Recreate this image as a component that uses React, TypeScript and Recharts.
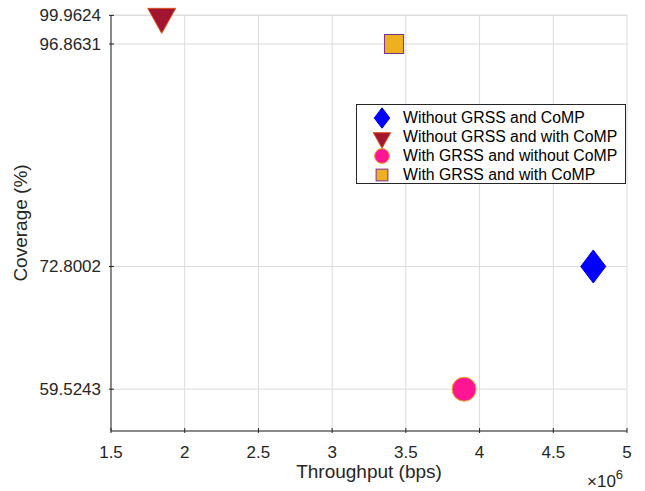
import React from "react";
import {
  ScatterChart,
  Scatter,
  XAxis,
  YAxis,
  CartesianGrid,
  Legend,
  Label,
} from "recharts";

const seriesNames = [
  "Without GRSS and CoMP",
  "Without GRSS and with CoMP",
  "With GRSS and without CoMP",
  "With GRSS and with CoMP",
];
const throughput = [4.771e6, 1.844e6, 3.895e6, 3.42e6];
const coverage = [72.8002, 99.9624, 59.5243, 96.8631];

const xTicks = [1.5e6, 2e6, 2.5e6, 3e6, 3.5e6, 4e6, 4.5e6, 5e6];
const yTicks = [59.5243, 72.8002, 96.8631, 99.9624];

const AXIS = "#262626";
const FONT = "'Liberation Sans', Arial, sans-serif";

// marker drawing, one per series
const drawMarker = (i: number, cx: number, cy: number, s = 1) => {
  if (i === 0) {
    const w = 12.5 * s;
    const h = 16.5 * s;
    return (
      <polygon
        points={`${cx},${cy - h} ${cx + w},${cy} ${cx},${cy + h} ${cx - w},${cy}`}
        fill="#0000ff"
        stroke="#0000ff"
      />
    );
  }
  if (i === 1) {
    const w = 14 * s;
    return (
      <polygon
        points={`${cx - w},${cy - 7 * s} ${cx + w},${cy - 7 * s} ${cx},${cy + 18 * s}`}
        fill="#a2142f"
        stroke="#d95319"
      />
    );
  }
  if (i === 2) {
    return <circle cx={cx} cy={cy} r={12 * s} fill="#ff1493" stroke="#edb120" />;
  }
  const h = 9.5 * s;
  return (
    <rect x={cx - h} y={cy - h} width={2 * h} height={2 * h} fill="#edb120" stroke="#7e2f8e" />
  );
};

const BottomTick = (props: any) => {
  const { x, y, payload } = props;
  return (
    <g>
      <line x1={x} y1={y} x2={x} y2={y - 5} stroke={AXIS} />
      <text x={x} y={y + 25} textAnchor="middle" fill={AXIS} fontSize={17} fontFamily={FONT}>
        {payload.value / 1e6}
      </text>
    </g>
  );
};

const TopTick = (props: any) => {
  const { x, y } = props;
  return <line x1={x} y1={y} x2={x} y2={y + 5} stroke={AXIS} />;
};

const LeftTick = (props: any) => {
  const { x, y, payload } = props;
  return (
    <g>
      <line x1={x} y1={y} x2={x + 5} y2={y} stroke={AXIS} />
      <text x={x - 8} y={y + 6} textAnchor="end" fill={AXIS} fontSize={17} fontFamily={FONT}>
        {payload.value.toFixed(4)}
      </text>
    </g>
  );
};

const RightTick = (props: any) => {
  const { x, y } = props;
  return <line x1={x} y1={y} x2={x - 5} y2={y} stroke={AXIS} />;
};

const LegendBox = () => (
  <div
    style={{
      width: 268,
      height: 78,
      border: `1px solid ${AXIS}`,
      background: "#fff",
      fontFamily: FONT,
      fontSize: 15.8,
      color: "#000",
      position: "relative",
    }}
  >
    {seriesNames.map((name, i) => (
      <div
        key={name}
        style={{
          position: "absolute",
          left: 0,
          top: 3.5 + i * 18.9,
          height: 19,
          display: "flex",
          alignItems: "center",
          whiteSpace: "nowrap",
        }}
      >
        <svg width={46} height={22} style={{ overflow: "visible" }}>
          {drawMarker(i, 25, 11, 0.62)}
        </svg>
        <span>{name}</span>
      </div>
    ))}
  </div>
);

const YLabel = (props: any) => {
  const { viewBox } = props;
  const x = viewBox.x + 27;
  const y = viewBox.y + viewBox.height / 2;
  return (
    <text
      x={x}
      y={y}
      transform={`rotate(-90 ${x} ${y})`}
      textAnchor="middle"
      fill={AXIS}
      fontSize={19}
      fontFamily={FONT}
    >
      Coverage (%)
    </text>
  );
};

const XLabel = (props: any) => {
  const { viewBox } = props;
  return (
    <text
      x={viewBox.x + viewBox.width / 2}
      y={viewBox.y + 47}
      textAnchor="middle"
      fill={AXIS}
      fontSize={19}
      fontFamily={FONT}
    >
      Throughput (bps)
    </text>
  );
};

const ExpLabel = (props: any) => {
  const { viewBox } = props;
  return (
    <text
      x={viewBox.x + viewBox.width - 40}
      y={viewBox.y + 56}
      fill={AXIS}
      fontSize={17}
      fontFamily={FONT}
    >
      ×10
      <tspan dy={-8} fontSize={13}>
        6
      </tspan>
    </text>
  );
};

export default function App() {
  return (
    <div style={{ position: "absolute", left: 0, top: 0, background: "#fff" }}>
      <ScatterChart
        width={645}
        height={491}
        margin={{ top: 15, right: 18, bottom: 0, left: 0 }}
      >
        <CartesianGrid stroke="#dcdcdc" />
        <XAxis
          type="number"
          dataKey="x"
          domain={[1.5e6, 5e6]}
          ticks={xTicks}
          interval={0}
          height={60}
          tickSize={0}
          tickLine={false}
          stroke={AXIS}
          tick={<BottomTick />}
        >
          <Label content={<XLabel />} />
          <Label content={<ExpLabel />} />
        </XAxis>
        <XAxis
          xAxisId="top"
          orientation="top"
          type="number"
          dataKey="x"
          domain={[1.5e6, 5e6]}
          ticks={xTicks}
          interval={0}
          height={0}
          tickSize={0}
          tickLine={false}
          stroke={AXIS}
          tick={<TopTick />}
        />
        <YAxis
          type="number"
          dataKey="y"
          domain={[55, 100]}
          ticks={yTicks}
          interval={0}
          width={111}
          tickSize={0}
          tickLine={false}
          stroke={AXIS}
          tick={<LeftTick />}
        >
          <Label content={<YLabel />} />
        </YAxis>
        <YAxis
          yAxisId="right"
          orientation="right"
          type="number"
          dataKey="y"
          domain={[55, 100]}
          ticks={yTicks}
          interval={0}
          width={0}
          tickSize={0}
          tickLine={false}
          stroke={AXIS}
          tick={<RightTick />}
        />
        {seriesNames.map((name, i) => (
          <Scatter
            key={name}
            name={name}
            data={[{ x: throughput[i], y: coverage[i] }]}
            isAnimationActive={false}
            shape={(p: any) => drawMarker(i, p.cx, p.cy)}
          />
        ))}
        <Legend
          layout="vertical"
          align="center"
          verticalAlign="middle"
          wrapperStyle={{ left: 356, top: 104, width: 270 }}
          content={<LegendBox />}
        />
      </ScatterChart>
    </div>
  );
}
